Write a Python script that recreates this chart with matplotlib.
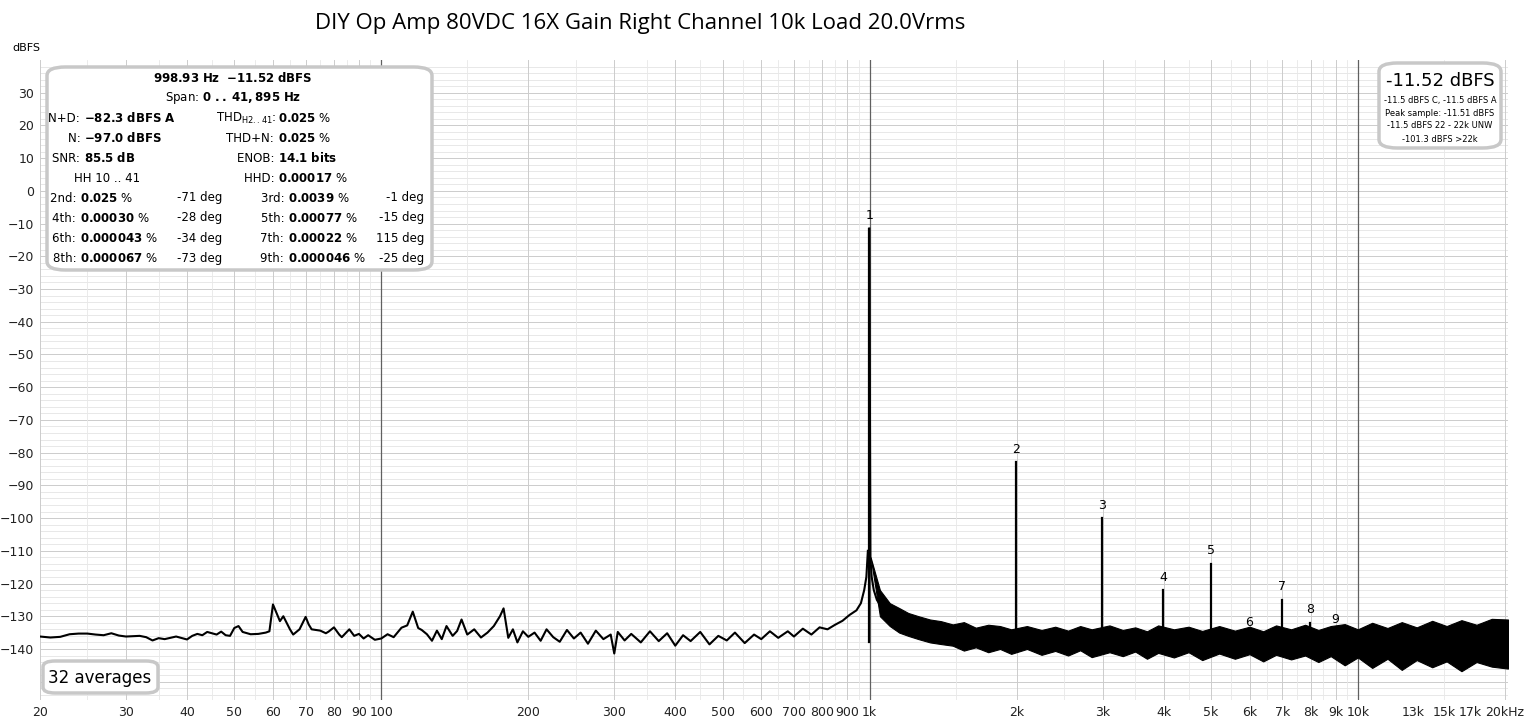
import numpy as np
import matplotlib.pyplot as plt
from matplotlib.patches import FancyBboxPatch

# ---------------- Data ----------------
TITLE = "DIY Op Amp 80VDC 16X Gain Right Channel 10k Load 20.0Vrms"

# low-frequency noise trace, Hz / dBFS
noise_f = [20, 21, 22, 23, 24, 25, 26, 27, 28, 29, 30, 32, 33, 34, 35, 36, 38, 40, 41, 42,
           43, 44, 45, 46, 47, 48, 49, 50, 51, 52, 54, 56, 58, 59, 60, 61, 62, 63, 64, 65,
           66, 68, 70, 71, 72, 75, 77, 78, 80, 82, 83, 86, 88, 90, 92, 94, 97, 100,
           103, 106, 110, 113, 116, 119, 121, 124, 127, 130, 133, 136, 140, 143, 146, 150,
           155, 160, 165, 170, 175, 178, 182, 186, 190, 195, 200, 206, 212, 218, 225, 232,
           240, 248, 256, 265, 275, 285, 295, 300, 305, 315, 325, 340, 355, 370, 385, 400,
           415, 430, 450, 470, 490, 510, 530, 555, 580, 600, 625, 650, 680, 700, 730, 760,
           790, 820, 850, 880, 910, 940, 960, 975, 985, 992]
noise_db = [-136.2, -136.5, -136.3, -135.5, -135.3, -135.3, -135.6, -135.8, -135.2, -135.9, -136.2, -136.0, -136.4, -137.4, -136.7, -137.0, -136.2, -137.1, -136.0, -135.4,
            -135.8, -134.8, -135.2, -135.6, -134.7, -135.8, -136.0, -133.6, -133.0, -134.8, -135.5, -135.4, -135.0, -134.6, -126.4, -129.0, -131.5, -130.0, -132.0, -134.0,
            -135.6, -134.0, -130.2, -132.5, -134.0, -134.4, -135.2, -134.7, -133.4, -135.6, -136.4, -134.0, -136.0, -135.4, -136.8, -135.8, -137.2, -136.8,
            -135.5, -136.4, -133.5, -132.8, -128.6, -133.6, -134.2, -135.5, -137.5, -134.4, -137.0, -133.0, -136.0, -134.5, -131.0, -135.6,
            -134.0, -136.5, -135.0, -133.0, -130.0, -127.6, -136.6, -134.0, -138.0, -134.6, -136.3, -135.0, -137.5, -134.0, -136.4, -137.8,
            -134.2, -136.8, -135.0, -138.4, -134.4, -137.0, -135.6, -141.4, -134.8, -137.4, -135.4, -138.0, -134.6, -137.6, -135.2, -139.0,
            -135.8, -137.6, -134.8, -138.6, -136.0, -137.4, -135.0, -138.2, -135.6, -137.0, -134.6, -136.6, -134.6, -136.2, -133.8, -135.6,
            -133.4, -134.0, -132.6, -131.4, -129.6, -128.2, -126.0, -122.0, -118.0, -110.0]

# fundamental skirt
skirt_f = [998.9, 1004, 1010, 1020, 1035, 1055, 1080, 1110, 1150, 1200]
skirt_db = [-11.5, -112.0, -118.0, -122.0, -125.0, -127.0, -129.0, -130.5, -132.0, -133.0]

# dense noise band above 1 kHz: upper / lower envelope
band_f = [1005, 1050, 1100, 1150, 1200, 1260, 1330, 1400, 1480, 1560, 1650, 1750, 1850, 1950,
          2100, 2250, 2400, 2550, 2700, 2850, 3100, 3300, 3500, 3700, 3900, 4200, 4500, 4800,
          5200, 5600, 6000, 6400, 6800, 7300, 7800, 8300, 8800, 9400, 10000, 10700, 11500,
          12300, 13200, 14200, 15200, 16300, 17500, 18800, 20300]
band_hi = [-112.0, -122.0, -126.0, -127.5, -129.0, -130.0, -131.0, -131.5, -132.5, -131.8, -133.5, -132.6, -133.0, -134.0,
           -133.0, -134.2, -133.2, -134.4, -133.0, -134.0, -132.8, -134.2, -133.4, -134.6, -132.8, -134.0, -133.2, -134.5,
           -133.0, -134.4, -133.2, -134.6, -132.8, -134.0, -132.6, -134.2, -133.0, -132.4, -134.0, -132.0, -133.6,
           -131.8, -133.4, -131.4, -133.0, -131.2, -132.6, -130.8, -131.0]
band_lo = [-112.0, -130.0, -133.0, -135.0, -136.0, -137.0, -138.0, -138.5, -139.0, -140.5, -139.5, -141.0, -140.0, -141.5,
           -140.0, -141.8, -140.6, -142.0, -140.4, -142.5, -141.0, -142.2, -140.8, -143.0, -141.2, -142.6, -141.0, -143.4,
           -141.4, -143.0, -141.6, -143.8, -141.8, -143.2, -142.0, -144.0, -142.2, -145.0, -142.6, -145.8, -143.0,
           -146.4, -143.4, -145.6, -143.8, -146.8, -144.0, -145.4, -146.0]

# harmonics
harm_n = [1, 2, 3, 4, 5, 6, 7, 8, 9]
harm_db = [-11.5, -83.0, -100.0, -122.0, -114.0, -136.0, -125.0, -132.0, -135.0]

# ---------------- Figure ----------------
fig = plt.figure(figsize=(15.26, 7.21), dpi=100)
ax = fig.add_axes([40 / 1526, 21 / 721, 1468 / 1526, 640 / 721])
ax.set_xscale("log")
ax.set_xlim(20, 20300)
ax.set_ylim(-155.6, 40)

# grid
for y in np.arange(-154, 40, 2):
    c = "#cccccc" if y % 10 == 0 else "#e8e8e8"
    ax.axhline(y, color=c, lw=0.7, zorder=0)
for dec in [10, 100, 1000, 10000]:
    for m in np.arange(1, 10, 0.5):
        f = dec * m
        if 20 <= f <= 20300:
            if m == 1 and dec >= 100:
                lw, c, z = 0.9, "#606060", 1
            elif m == int(m):
                lw, c, z = 0.7, "#cccccc", 0.5
            else:
                lw, c, z = 0.6, "#e8e8e8", 0.4
            ax.axvline(f, color=c, lw=lw, zorder=z)

xt = [20, 30, 40, 50, 60, 70, 80, 90, 100, 200, 300, 400, 500, 600, 700, 800, 900,
      1000, 2000, 3000, 4000, 5000, 6000, 7000, 8000, 9000, 10000, 13000, 15000, 17000, 20000]
xl = ["20", "30", "40", "50", "60", "70", "80", "90", "100", "200", "300", "400", "500", "600",
      "700", "800", "900", "1k", "2k", "3k", "4k", "5k", "6k", "7k", "8k", "9k", "10k",
      "13k", "15k", "17k", "20kHz"]
ax.set_xticks(xt)
ax.set_xticklabels(xl)
ax.minorticks_off()
ax.set_yticks(np.arange(-140, 31, 10))
ax.tick_params(length=0, labelsize=9, colors="#222", pad=4)
for s in ax.spines.values():
    s.set_visible(False)

# spectrum
ax.plot(noise_f, noise_db, color="black", lw=1.5, zorder=3)
ax.plot(skirt_f, skirt_db, color="black", lw=1.5, zorder=3)
ax.fill_between(band_f, band_lo, band_hi, color="black", lw=0.8, ec="black", zorder=3)
f0 = 998.93
for n, d in zip(harm_n, harm_db):
    ax.plot([f0 * n, f0 * n], [-138, d], color="black", lw=1.6, zorder=4)
    ax.text(f0 * n, d + 2, str(n), ha="center", va="bottom", fontsize=9, zorder=5)

fig.text(640 / 1526, 1 - 23 / 721, TITLE, ha="center", va="center", fontsize=16, family="Open Sans")
fig.text(12 / 1526, 1 - 48 / 721, "dBFS", ha="left", va="center", fontsize=8)

# info box
box = FancyBboxPatch((47 / 1526, 1 - 270 / 721), 385 / 1526, 203 / 721, transform=fig.transFigure,
                     boxstyle="round,pad=0,rounding_size=0.012", fc="white", ec="#c8c8c8", lw=2.5, zorder=6)
fig.patches.append(box)


def T(x, y, s, ha="left", size=8.5, **kw):
    fig.text(x / 1526, 1 - y / 721, s, ha=ha, va="center", fontsize=size, zorder=7, **kw)


def B(s):
    return r"$\mathbf{" + s.replace(" ", r"\ ").replace("-", "{-}") + "}$"


T(233, 78, B("998.93 Hz  -11.52 dBFS"), ha="center")
T(233, 98, "Span: " + B("0 .. 41,895 Hz"), ha="center")
rows = [(118, "N+D: ", "-82.3 dBFS A", "THD$_{\\rm H2..41}$: ", "0.025", " %"),
        (138, "N: ", "-97.0 dBFS", "THD+N: ", "0.025", " %"),
        (158, "SNR: ", "85.5 dB", "ENOB: ", "14.1 bits", ""),
        (178, "", "", "HHD: ", "0.00017", " %")]
for y, a, av, b, bv, bu in rows:
    if a:
        T(84, y, a, ha="right")
        T(84, y, B(av))
    T(278, y, b, ha="right")
    T(278, y, B(bv) + bu)
T(107, 178, "HH 10 .. 41", ha="center")
harm_rows = [(198, "2nd: ", "0.025", "-71 deg", "3rd: ", "0.0039", "-1 deg"),
             (218, "4th: ", "0.00030", "-28 deg", "5th: ", "0.00077", "-15 deg"),
             (238, "6th: ", "0.000043", "-34 deg", "7th: ", "0.00022", "115 deg"),
             (258, "8th: ", "0.000067", "-73 deg", "9th: ", "0.000046", "-25 deg")]
for y, a, av, ad, b, bv, bd in harm_rows:
    T(80, y, a, ha="right")
    T(80, y, B(av) + " %")
    T(222, y, ad, ha="right")
    T(288, y, b, ha="right")
    T(288, y, B(bv) + " %")
    T(424, y, bd, ha="right")

# level box
box2 = FancyBboxPatch((1379 / 1526, 1 - 148 / 721), 122 / 1526, 85 / 721, transform=fig.transFigure,
                      boxstyle="round,pad=0,rounding_size=0.012", fc="white", ec="#c8c8c8", lw=2.5, zorder=6)
fig.patches.append(box2)
T(1440, 81, "-11.52 dBFS", ha="center", size=13)
for y, s in [(100, "-11.5 dBFS C, -11.5 dBFS A"), (113, "Peak sample: -11.51 dBFS"),
             (126, "-11.5 dBFS 22 - 22k UNW"), (139, "-101.3 dBFS >22k")]:
    T(1440, y, s, ha="center", size=6)

box3 = FancyBboxPatch((43 / 1526, 1 - 693 / 721), 115 / 1526, 32 / 721, transform=fig.transFigure,
                      boxstyle="round,pad=0,rounding_size=0.008", fc="white", ec="#c8c8c8", lw=2.5, zorder=6)
fig.patches.append(box3)
T(100, 678, "32 averages", ha="center", size=12)

fig.savefig("out.png", dpi=100, facecolor="white")
